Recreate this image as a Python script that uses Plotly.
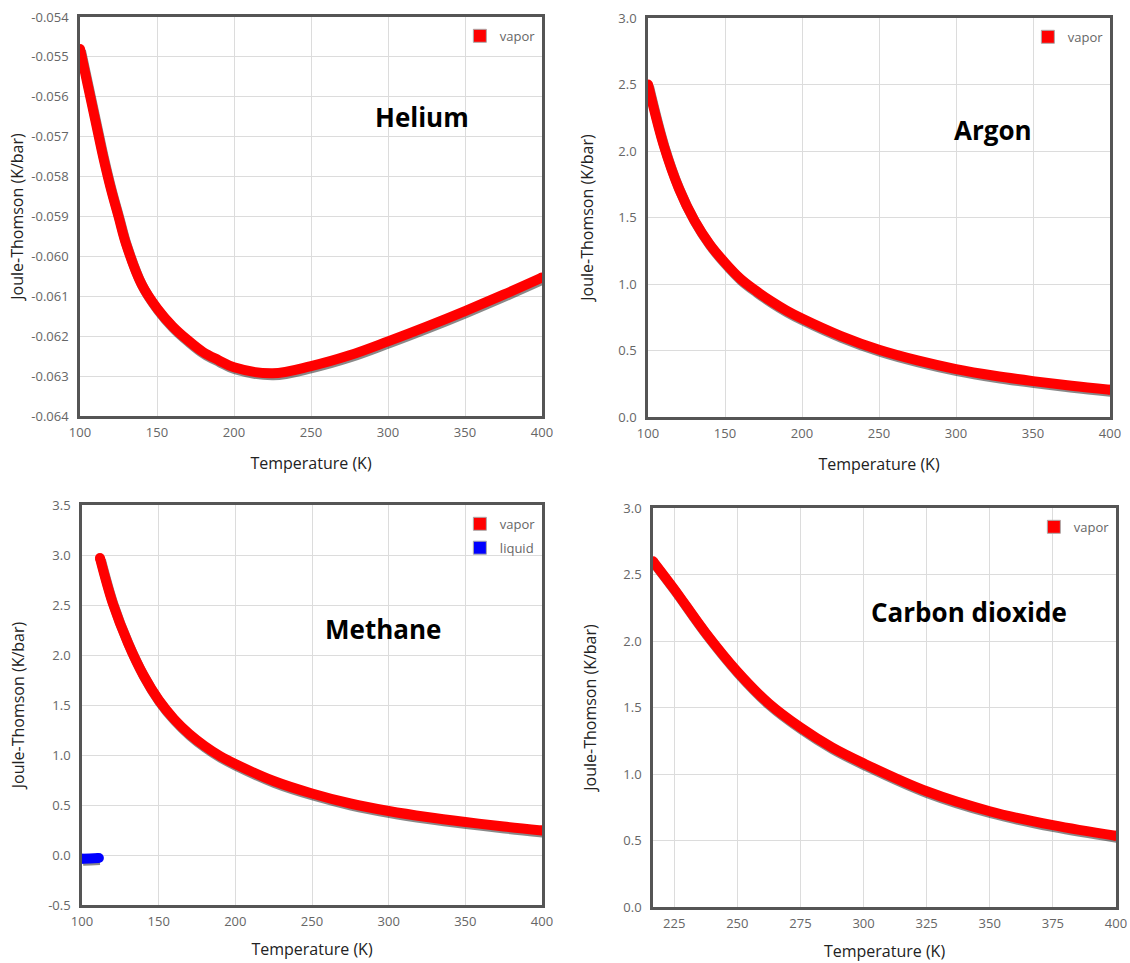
import plotly.graph_objects as go

# ---- Joule-Thomson coefficients (K/bar) versus temperature (K) ----
helium_T = [100, 105, 110, 115, 120, 125, 130, 140, 150, 160, 170, 180, 190, 200,
            225, 250, 275, 300, 325, 350, 375, 400]
helium_vapor = [-0.0548, -0.0557, -0.0566, -0.0575, -0.0583, -0.0590, -0.0597, -0.0607, -0.0613,
                -0.06175, -0.0621, -0.0624, -0.0626, -0.06278,
                -0.06293, -0.06275, -0.06248, -0.06213, -0.06176, -0.06137, -0.06096, -0.06053]

argon_T = [100, 110, 120, 130, 140, 150, 160, 170, 180, 190, 200, 225, 250, 275, 300, 325, 350, 375, 400]
argon_vapor = [2.50, 2.05, 1.72, 1.48, 1.30, 1.16, 1.04, 0.95, 0.87, 0.80, 0.74,
               0.61, 0.505, 0.425, 0.36, 0.31, 0.27, 0.235, 0.205]

methane_T = [111.7, 120, 130, 140, 150, 160, 170, 180, 190, 200, 225, 250, 275, 300, 325, 350, 375, 400]
methane_vapor = [2.97, 2.52, 2.12, 1.80, 1.55, 1.36, 1.21, 1.09, 0.99, 0.91,
                 0.74, 0.615, 0.515, 0.44, 0.38, 0.33, 0.285, 0.245]
methane_liq_T = [100, 105, 111]
methane_liquid = [-0.037, -0.034, -0.030]

co2_T = [216.6, 225, 237.5, 250, 262.5, 275, 287.5, 300, 325, 350, 375, 400]
co2_vapor = [2.60, 2.39, 2.06, 1.77, 1.53, 1.35, 1.20, 1.08, 0.87, 0.72, 0.615, 0.535]

names = ["Helium", "Argon", "Methane", "Carbon dioxide"]
series_names = ["vapor", "liquid"]

# ---- axes ----
x_ranges = [[100, 400], [100, 400], [100, 400], [216.6, 400]]
x_ticks = [[100, 150, 200, 250, 300, 350, 400]] * 3 + [[225, 250, 275, 300, 325, 350, 375, 400]]
y_ranges = [[-0.064, -0.054], [0, 3.0], [-0.5, 3.5], [0, 3.0]]
y_ticks = [
    [-0.064, -0.063, -0.062, -0.061, -0.060, -0.059, -0.058, -0.057, -0.056, -0.055, -0.054],
    [0.0, 0.5, 1.0, 1.5, 2.0, 2.5, 3.0],
    [-0.5, 0.0, 0.5, 1.0, 1.5, 2.0, 2.5, 3.0, 3.5],
    [0.0, 0.5, 1.0, 1.5, 2.0, 2.5, 3.0],
]
y_fmt = ["{:.3f}", "{:.1f}", "{:.1f}", "{:.1f}"]

W, H = 1130, 963
# panel boxes in pixels: left, right, top, bottom
boxes = [(80, 542, 17, 416), (648, 1110, 18, 417), (82, 542, 505, 905), (653, 1116, 508, 907)]
title_pos = [(422, 117), (993, 130), (383, 629), (969, 612)]
y_title_standoff = [4, 21, 20, 23]
x_title_standoff = [18, 18, 15, 15]

RED = "#ff0000"
BLUE = "#0000ff"
LW = 10

fig = go.Figure()


def add_curve(idx, xs, ys, color, name):
    xa = "x" if idx == 0 else f"x{idx + 1}"
    ya = "y" if idx == 0 else f"y{idx + 1}"
    l, r, t, b = boxes[idx]
    # soft drop shadow, offset ~2px down/right
    dy = 2.0 * (y_ranges[idx][1] - y_ranges[idx][0]) / (b - t)
    dx = 1.0 * (x_ranges[idx][1] - x_ranges[idx][0]) / (r - l)
    fig.add_trace(go.Scatter(
        x=[v + dx for v in xs], y=[v - dy for v in ys], mode="lines",
        line=dict(color="rgba(40,40,40,0.55)", width=LW, shape="spline", smoothing=1.0),
        xaxis=xa, yaxis=ya, showlegend=False, hoverinfo="skip"))
    sizes = [LW] + [0] * (len(xs) - 2) + [LW]
    fig.add_trace(go.Scatter(
        x=xs, y=ys, mode="lines+markers",
        line=dict(color=color, width=LW, shape="spline", smoothing=1.0),
        marker=dict(color=color, size=sizes, opacity=1, line=dict(width=0)),
        xaxis=xa, yaxis=ya, showlegend=False, name=name))
    # legend swatch
    lg = "legend" if idx == 0 else f"legend{idx + 1}"
    fig.add_trace(go.Scatter(
        x=[None], y=[None], mode="markers", name=name, legendgroup=name,
        marker=dict(symbol="square", size=13, color=color, line=dict(color="#aaaaaa", width=1)),
        xaxis=xa, yaxis=ya, showlegend=True, legend=lg))


add_curve(0, helium_T, helium_vapor, RED, series_names[0])
add_curve(1, argon_T, argon_vapor, RED, series_names[0])
add_curve(2, methane_T, methane_vapor, RED, series_names[0])
add_curve(2, methane_liq_T, methane_liquid, BLUE, series_names[1])
add_curve(3, co2_T, co2_vapor, RED, series_names[0])

FONT = "Open Sans"
layout = dict(width=W, height=H, margin=dict(l=0, r=0, t=0, b=0),
              paper_bgcolor="white", plot_bgcolor="white",
              font=dict(family=FONT, color="#222"), annotations=[])

for i in range(4):
    l, r, t, b = boxes[i]
    xk = "xaxis" if i == 0 else f"xaxis{i + 1}"
    yk = "yaxis" if i == 0 else f"yaxis{i + 1}"
    ya = "y" if i == 0 else f"y{i + 1}"
    xa = "x" if i == 0 else f"x{i + 1}"
    layout[xk] = dict(
        domain=[l / W, r / W], range=x_ranges[i], anchor=ya,
        tickvals=x_ticks[i], ticktext=[str(v) for v in x_ticks[i]],
        showgrid=True, gridcolor="#dcdcdc", gridwidth=1, zeroline=False,
        showline=True, mirror=True, linecolor="#555555", linewidth=2.5,
        ticks="", ticklabelstandoff=3, tickfont=dict(size=13, color="#666666", family=FONT),
        title=dict(text="Temperature (K)", font=dict(size=16, color="#222222", family=FONT),
                   standoff=x_title_standoff[i]),
        automargin=False)
    layout[yk] = dict(
        domain=[1 - b / H, 1 - t / H], range=y_ranges[i], anchor=xa,
        tickvals=y_ticks[i], ticktext=[y_fmt[i].format(v) for v in y_ticks[i]],
        showgrid=True, gridcolor="#dcdcdc", gridwidth=1, zeroline=False,
        showline=True, mirror=True, linecolor="#555555", linewidth=2.5,
        ticks="", ticklabelstandoff=6, tickfont=dict(size=13, color="#666666", family=FONT),
        title=dict(text="Joule-Thomson (K/bar)", font=dict(size=16, color="#222222", family=FONT),
                   standoff=y_title_standoff[i]),
        automargin=False)
    lg = "legend" if i == 0 else f"legend{i + 1}"
    layout[lg] = dict(
        x=r / W - 0.001, y=1 - t / H - 0.004, xanchor="right", yanchor="top",
        bgcolor="rgba(0,0,0,0)", borderwidth=0, itemwidth=30, tracegroupgap=4,
        font=dict(size=13, color="#666666", family=FONT))
    tx, ty = title_pos[i]
    layout["annotations"].append(dict(
        text=f"<b>{names[i]}</b>", x=tx / W, y=1 - ty / H, xref="paper", yref="paper",
        xanchor="center", yanchor="middle",
        showarrow=False, font=dict(size=26, color="#000000", family=FONT)))

fig.update_layout(**layout)
fig.write_html("out.html")
